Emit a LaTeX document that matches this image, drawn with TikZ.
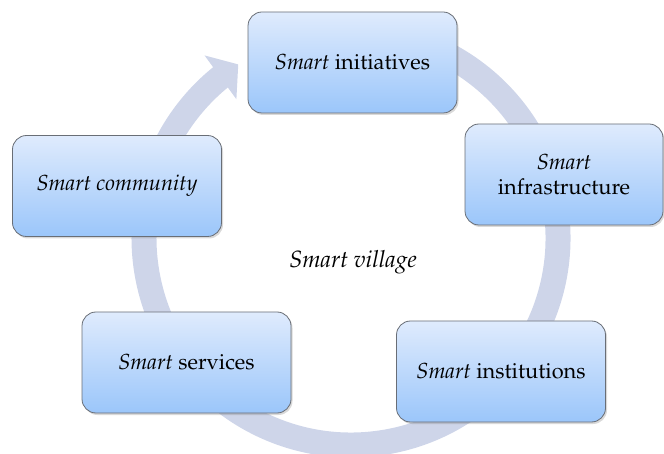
\documentclass[tikz,border=0pt]{standalone}
\usepackage[T1]{fontenc}
\usepackage{mathpazo}
\usepackage{tikz}
\usetikzlibrary{shadows, arrows.meta, bending}

\definecolor{ringblue}{RGB}{206,213,233}
\definecolor{boxtop}{RGB}{223,235,253}
\definecolor{boxbottom}{RGB}{155,198,250}
\definecolor{boxline}{RGB}{105,110,118}

\begin{document}
\begin{tikzpicture}[x=1pt, y=1pt]
\tikzstyle{smartbox}=[draw=boxline, line width=0.8pt, rounded corners=14pt, top color=boxtop, bottom color=boxbottom, minimum width=209pt, minimum height=101pt, align=center, font=\fontsize{21.8}{25}\selectfont, drop shadow={opacity=0.3, shadow xshift=1.5pt, shadow yshift=-2pt}]
\tikzstyle{ring}=[draw=ringblue, line width=25pt, -{Triangle[width=53pt, length=22pt, flex]}]
\useasboundingbox (0,0) rectangle (664,-454);
\coordinate (O) at (351,-238);
% cycle arrow behind the boxes
\draw[ring] (O) ++(100:207) arc[start angle=100, end angle=-237, radius=207];
\node (V) at (353,-262) {\fontsize{23.5}{27}\selectfont\textit{Smart village}};
\node[smartbox]                      (I) at (352.5,-62.5)  {\textit{Smart} initiatives};
\node[smartbox, minimum width=198pt] (F) at (564,-174.5)   {\textit{Smart}\\infrastructure};
\node[smartbox]                      (N) at (501,-371.5)   {\textit{Smart} institutions};
\node[smartbox]                      (S) at (186.5,-362.5) {\textit{Smart} services};
\node[smartbox]                      (C) at (117,-186)     {\textit{Smart community}};
\end{tikzpicture}
\end{document}
